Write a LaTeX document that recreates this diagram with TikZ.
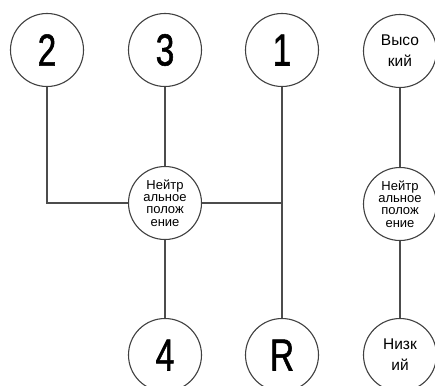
\documentclass[tikz,border=0pt]{standalone}
\usepackage{fontspec}
\setmainfont{Liberation Sans}
\newfontfamily\digitfont[FakeStretch=0.74,FakeBold=1.2]{Liberation Sans}
\begin{document}
\begin{tikzpicture}[x=1pt,y=-1pt,
  gear/.style={circle,draw=black!75,line width=1.1pt,fill=white,minimum size=73pt,inner sep=0pt},
  digit/.style={gear,font=\digitfont\fontsize{45}{45}\selectfont},
  word/.style={gear,font=\fontsize{15.5}{21}\selectfont,align=center},
  neutral/.style={gear,font=\fontsize{13}{12.3}\selectfont,align=center},
  link/.style={draw=black!70,line width=1.3pt}]
\clip (0,0) rectangle (435,385);
\fill[white] (0,0) rectangle (435,385);
% nodes
\node[digit] (n2) at (47,50) {2};
\node[digit] (n3) at (165,50) {3};
\node[digit] (n1) at (282,50) {1};
\node[word] (hi) at (400,51) {Высо\\кий};
\node[neutral] (neu) at (165,203) {Нейтр\\альное\\полож\\ение};
\node[neutral] (neu2) at (400,204) {Нейтр\\альное\\полож\\ение};
\node[digit] (n4) at (165,355) {4};
\node[digit] (nR) at (282,355) {R};
\node[word] (lo) at (400,355) {Низк\\ий};
\coordinate (j) at (283,203);
% connectors
\path[link] (n2.south) |- (neu.west);
\path[link] (neu.east) -- (j);
\path[link] (n1.south) -- (nR.north);
\path[link] (n3.south) -- (neu.north);
\path[link] (neu.south) -- (n4.north);
\path[link] (hi.south) -- (neu2.north);
\path[link] (neu2.south) -- (lo.north);
\end{tikzpicture}
\end{document}
